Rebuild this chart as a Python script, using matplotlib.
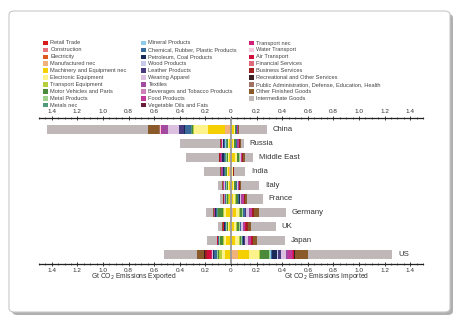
import matplotlib
matplotlib.use("Agg")
import matplotlib.pyplot as plt
from matplotlib.patches import FancyBboxPatch, Rectangle
from matplotlib.ticker import MultipleLocator, FuncFormatter
import numpy as np

plt.rcParams["font.family"] = ["Liberation Sans", "DejaVu Sans"]

countries = ["China", "Russia", "Middle East", "India", "Italy", "France",
             "Germany", "UK", "Japan", "US"]

categories = ["Retail Trade", "Construction", "Electricity", "Manufactured nec",
              "Machinery and Equipment nec", "Electronic Equipment", "Transport Equipment",
              "Motor Vehicles and Parts", "Metal Products", "Metals nec",
              "Mineral Products", "Chemical, Rubber, Plastic Products", "Petroleum, Coal Products",
              "Wood Products", "Leather Products", "Wearing Apparel", "Textiles",
              "Beverages and Tobacco Products", "Food Products", "Vegetable Oils and Fats",
              "Transport nec", "Water Transport", "Air Transport", "Financial Services",
              "Business Services", "Recreational and Other Services",
              "Public Administration, Defense, Education, Health", "Other Finished Goods",
              "Intermediate Goods"]

colors = ["#d7191c", "#e8737b", "#e0561f", "#f0b27a", "#f5d000", "#fdf38a", "#b5cf3a",
          "#4a8a3a", "#9fd08a", "#4f9a7a", "#8ccbea", "#3a6a9a", "#1c2a5a", "#c8c8e8",
          "#4a3a80", "#dcc0e0", "#a04aa0", "#d080b8", "#c03a9a", "#6a1a3a", "#d0207a",
          "#f5c8dc", "#d0103a", "#e06a7a", "#a02020", "#3a2020", "#a07060", "#8b5a2b",
          "#c0b8b8"]

# Gt CO2 by category (order as in `categories`)
exp_china = [0.002, 0.002, 0.003, 0.04, 0.13, 0.11, 0.008, 0.006, 0.004, 0.004, 0.003, 0.05, 0.003, 0.003, 0.035, 0.09, 0.045, 0.002, 0.005, 0.001, 0.003, 0.002, 0.002, 0.001, 0.003, 0.001, 0.001, 0.09, 0.791]
imp_china = [0, 0, 0, 0.003, 0.018, 0.008, 0.003, 0.005, 0.001, 0.001, 0.001, 0.003, 0.001, 0.001, 0.001, 0.001, 0.001, 0.001, 0.002, 0.001, 0.001, 0, 0.001, 0, 0.002, 0.001, 0.001, 0.002, 0.22]
exp_russia = [0, 0, 0, 0.005, 0.012, 0.005, 0.003, 0.005, 0.003, 0.008, 0.002, 0.008, 0.01, 0.003, 0.002, 0.002, 0.002, 0, 0.004, 0, 0.002, 0, 0.002, 0, 0.003, 0, 0, 0.004, 0.315]
imp_russia = [0, 0, 0, 0.005, 0.012, 0.006, 0.003, 0.01, 0.003, 0, 0, 0.005, 0.001, 0, 0, 0.005, 0.003, 0, 0.01, 0, 0, 0, 0, 0, 0.005, 0, 0, 0.012, 0.02]
exp_me = [0, 0, 0, 0.005, 0.012, 0.006, 0.004, 0.006, 0.004, 0.006, 0, 0.012, 0.015, 0, 0, 0.003, 0.004, 0, 0.004, 0, 0.003, 0, 0.003, 0, 0.004, 0, 0, 0.004, 0.255]
imp_me = [0, 0, 0, 0.008, 0.025, 0.01, 0.005, 0.015, 0.004, 0, 0, 0.006, 0, 0, 0, 0.005, 0.003, 0, 0.008, 0, 0, 0, 0, 0, 0.006, 0, 0, 0.015, 0.06]
exp_india = [0, 0, 0, 0.012, 0.012, 0.004, 0.004, 0.006, 0.004, 0.004, 0, 0.008, 0.006, 0, 0, 0.005, 0.006, 0, 0.004, 0, 0, 0, 0, 0, 0.004, 0, 0, 0.006, 0.125]
imp_india = [0, 0, 0, 0.003, 0.008, 0.004, 0, 0.002, 0, 0, 0, 0.002, 0, 0, 0, 0, 0, 0, 0, 0, 0, 0, 0, 0, 0.003, 0, 0, 0.003, 0.085]
exp_italy = [0, 0, 0, 0.004, 0.015, 0.004, 0.004, 0.006, 0.004, 0, 0, 0.006, 0, 0, 0.003, 0.006, 0.005, 0, 0.004, 0, 0, 0, 0, 0, 0, 0, 0, 0.009, 0.03]
imp_italy = [0, 0, 0, 0.004, 0.01, 0.008, 0.004, 0.012, 0.002, 0, 0, 0.006, 0, 0, 0.002, 0.008, 0.004, 0, 0.006, 0, 0, 0, 0, 0, 0.002, 0, 0, 0.012, 0.14]
exp_france = [0, 0, 0, 0.004, 0.01, 0.004, 0.008, 0.008, 0.003, 0, 0, 0.008, 0, 0, 0, 0.003, 0, 0.004, 0.004, 0, 0, 0, 0, 0, 0.003, 0, 0, 0.006, 0.02]
imp_france = [0, 0, 0, 0.006, 0.012, 0.012, 0.006, 0.018, 0.003, 0, 0, 0.008, 0.004, 0, 0.003, 0.01, 0.005, 0, 0.012, 0, 0, 0, 0.004, 0, 0.004, 0, 0, 0.018, 0.125]
exp_germany = [0, 0, 0, 0.006, 0.035, 0.012, 0.01, 0.035, 0.006, 0.004, 0, 0.012, 0.002, 0, 0, 0.002, 0.002, 0, 0.003, 0, 0, 0, 0, 0, 0.003, 0, 0, 0.008, 0.055]
imp_germany = [0, 0, 0, 0.015, 0.025, 0.02, 0.008, 0.02, 0.005, 0.004, 0, 0.012, 0.004, 0, 0.006, 0.02, 0.008, 0, 0.015, 0, 0, 0, 0.004, 0, 0.012, 0.002, 0, 0.04, 0.21]
exp_uk = [0, 0, 0, 0.004, 0.012, 0.005, 0.005, 0.008, 0.003, 0, 0, 0.01, 0.004, 0, 0, 0, 0, 0.003, 0.003, 0, 0, 0, 0.003, 0.002, 0.004, 0, 0, 0.004, 0.03]
imp_uk = [0, 0, 0, 0.008, 0.018, 0.015, 0.005, 0.018, 0.003, 0, 0, 0.008, 0.003, 0, 0.004, 0.014, 0.005, 0, 0.01, 0, 0, 0, 0.004, 0, 0.015, 0, 0, 0.03, 0.19]
exp_japan = [0, 0, 0, 0.003, 0.035, 0.02, 0.006, 0.025, 0.003, 0.003, 0, 0.008, 0, 0, 0, 0, 0, 0, 0, 0, 0, 0, 0.003, 0, 0.004, 0, 0, 0, 0.08]
imp_japan = [0, 0, 0, 0.01, 0.025, 0.03, 0.004, 0.01, 0.005, 0, 0, 0.01, 0.008, 0, 0.008, 0.025, 0.006, 0, 0.018, 0, 0, 0, 0.006, 0, 0.01, 0, 0, 0.025, 0.22]
exp_us = [0, 0, 0, 0.005, 0.04, 0.025, 0.02, 0.015, 0.004, 0.004, 0, 0.02, 0.01, 0, 0, 0.002, 0.002, 0, 0.005, 0, 0.008, 0, 0.025, 0.006, 0.015, 0.004, 0, 0.055, 0.255]
imp_us = [0, 0, 0, 0.055, 0.085, 0.08, 0.005, 0.075, 0.005, 0.003, 0.003, 0.012, 0.035, 0.01, 0.02, 0.045, 0.01, 0.005, 0.03, 0.002, 0.004, 0, 0.006, 0, 0.005, 0.002, 0.003, 0.1, 0.66]

exports = [exp_china, exp_russia, exp_me, exp_india, exp_italy, exp_france,
           exp_germany, exp_uk, exp_japan, exp_us]
imports = [imp_china, imp_russia, imp_me, imp_india, imp_italy, imp_france,
           imp_germany, imp_uk, imp_japan, imp_us]

W, H = 462, 322
fig = plt.figure(figsize=(W / 100, H / 100), dpi=100)
fig.patch.set_facecolor("white")

# card with shadow
shadow = FancyBboxPatch((12 / W, 7 / H), 441 / W, 301 / H,
                        boxstyle="round,pad=0,rounding_size=0.012",
                        transform=fig.transFigure, facecolor="#b0b0b0",
                        edgecolor="none", zorder=0)
card = FancyBboxPatch((9 / W, 10 / H), 441 / W, 301 / H,
                      boxstyle="round,pad=0,rounding_size=0.012",
                      transform=fig.transFigure, facecolor="white",
                      edgecolor="#c8c8c8", linewidth=0.8, zorder=0.5)
fig.patches.extend([shadow, card])

# legend (manual, three columns)
col_x = [43, 141, 249]
row_y0, row_dy = 43, 6.9
for i, (cat, col) in enumerate(zip(categories, colors)):
    c = i // 10
    r = i % 10
    x = col_x[c]
    y = row_y0 + r * row_dy
    fig.patches.append(Rectangle((x / W, 1 - (y + 2.3) / H), 4.5 / W, 4.6 / H,
                                 transform=fig.transFigure, facecolor=col,
                                 edgecolor="none", zorder=2))
    fig.text((x + 7.5) / W, 1 - y / H, cat, fontsize=4.1, color="#444444",
             va="center", ha="left", zorder=2)

left_px, right_px, top_px, bot_px = 39, 423, 118, 264
ax = fig.add_axes([left_px / W, 1 - bot_px / H, (right_px - left_px) / W,
                   (bot_px - top_px) / H])
ax.set_facecolor("none")
ax.set_zorder(3)

ypos = np.arange(len(countries))
bh = 0.65
for k in range(len(categories)):
    ev = np.array([e[k] for e in exports])
    iv = np.array([m[k] for m in imports])
    eleft = np.array([sum(e[:k]) for e in exports])
    ileft = np.array([sum(m[:k]) for m in imports])
    ax.barh(ypos, -ev, left=-eleft, height=bh, color=colors[k], linewidth=0)
    ax.barh(ypos, iv, left=ileft, height=bh, color=colors[k], linewidth=0)

for i, name in enumerate(countries):
    ax.text(sum(imports[i]) + 0.045, ypos[i], name, fontsize=5.6,
            color="#333333", va="center", ha="left")

ax.axvline(0, color="#9a9a9a", linewidth=1.3, zorder=5)

ax.set_xlim(-1.5, 1.5)
ax.set_ylim(9.68, -0.83)
ax.set_yticks([])
for s in ["left", "right"]:
    ax.spines[s].set_visible(False)
for s in ["top", "bottom"]:
    ax.spines[s].set_linewidth(0.9)
    ax.spines[s].set_color("#222222")

ax.xaxis.set_major_locator(MultipleLocator(0.2))
ax.xaxis.set_minor_locator(MultipleLocator(0.05))
ax.xaxis.set_major_formatter(FuncFormatter(
    lambda v, p: "0" if abs(v) < 1e-9 else f"{abs(v):.1f}"))
ax.xaxis.set_ticks_position("both")
ax.tick_params(axis="x", which="major", labeltop=True, labelbottom=True,
               labelsize=4.6, labelcolor="#333333", direction="inout",
               length=2.5, width=0.6, pad=1.5, color="#222222")
ax.tick_params(axis="x", which="minor", direction="inout", length=1.4,
               width=0.5, color="#222222")
ax.set_xticks(np.round(np.arange(-1.4, 1.41, 0.2), 2))

ax.text(-0.76, 1 - (277 - top_px) / (bot_px - top_px),
        "Gt CO$_2$ Emissions Exported", transform=ax.get_xaxis_transform(),
        fontsize=4.9, color="#333333", ha="center", va="center")
ax.text(0.75, 1 - (277 - top_px) / (bot_px - top_px),
        "Gt CO$_2$ Emissions Imported", transform=ax.get_xaxis_transform(),
        fontsize=4.9, color="#333333", ha="center", va="center")

fig.savefig("out.png", dpi=100)
